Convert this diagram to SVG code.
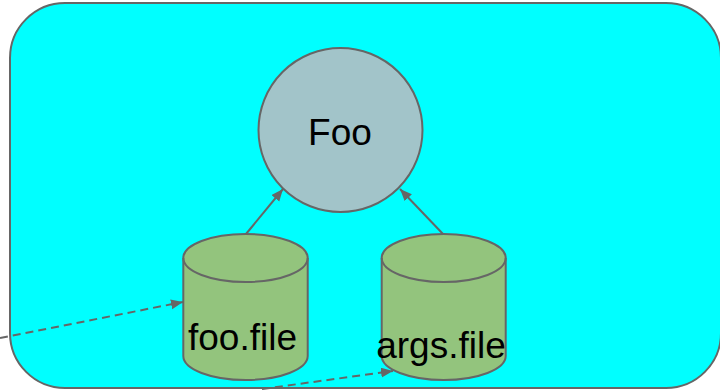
<svg xmlns="http://www.w3.org/2000/svg" width="720" height="390" viewBox="0 0 720 390">
<style>
.edge{stroke:#666666;stroke-width:2;fill:none}
.dash{stroke-dasharray:8,5}
.shape{stroke:#666666;stroke-width:2}
.lbl{font-family:"Liberation Sans",Arial,sans-serif;font-size:37px;fill:#000000;text-anchor:middle}
</style>
<defs>
<marker id="arr" markerUnits="userSpaceOnUse" markerWidth="13" markerHeight="11" refX="12" refY="5" orient="auto">
<path d="M0,0 L12,5 L0,10 z" fill="#666666"/>
</marker>
</defs>
<g id="container">
<rect x="10" y="3" width="711" height="385" rx="55" ry="55" fill="#00ffff" class="shape"/>
</g>
<g id="foo">
<circle cx="340.5" cy="130" r="82" fill="#a2c4c9" class="shape"/>
<text x="340" y="145" class="lbl">Foo</text>
</g>
<g id="foo-file">
<path d="M183.3,258 L183.3,356 A62.2,24 0 0 0 307.7,356 L307.7,258 A62.2,24 0 0 0 183.3,258 Z" fill="#93c47d" class="shape"/>
<path d="M183.3,258 A62.2,24 0 0 0 307.7,258" fill="none" class="shape"/>
<text x="242.5" y="350" class="lbl">foo.file</text>
</g>
<g id="args-file">
<path d="M381.7,258 L381.7,356 A62,24 0 0 0 505.7,356 L505.7,258 A62,24 0 0 0 381.7,258 Z" fill="#93c47d" class="shape"/>
<path d="M381.7,258 A62,24 0 0 0 505.7,258" fill="none" class="shape"/>
<text x="441" y="358" class="lbl">args.file</text>
</g>
<g id="connectors">
<line x1="246" y1="234" x2="283" y2="189" class="edge" marker-end="url(#arr)"/>
<line x1="443" y1="234" x2="400" y2="189" class="edge" marker-end="url(#arr)"/>
<line x1="0" y1="338" x2="183" y2="302" class="edge dash" marker-end="url(#arr)"/>
<line x1="262" y1="389" x2="393" y2="371" class="edge dash" marker-end="url(#arr)"/>
</g>
</svg>
